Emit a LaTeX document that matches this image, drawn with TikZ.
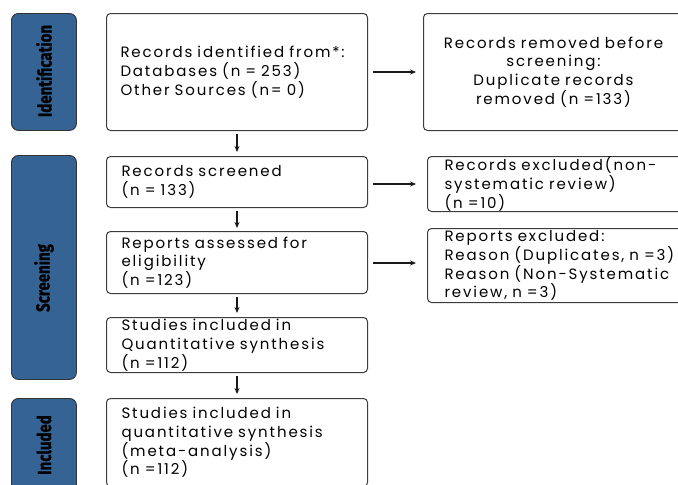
\documentclass[tikz,border=0pt]{standalone}
\usepackage{fontspec}
\setmainfont{Poppins}[LetterSpace=12.5]
\newfontfamily\labfont{Fira Sans}[BoldFeatures={FakeBold=1.2}]
\usetikzlibrary{arrows.meta}
\definecolor{phase}{RGB}{52,99,148}
\definecolor{edge}{RGB}{60,60,60}
\tikzset{
  box/.style={draw=edge, line width=1pt, rounded corners=4pt, rectangle, inner xsep=14pt, inner ysep=0pt,
    align=left, font=\fontsize{15}{18.7}\selectfont, anchor=north west},
  cbox/.style={box, align=center},
  phasebox/.style={draw=black!80, line width=0.9pt, fill=phase, rounded corners=7pt, rectangle, anchor=north west, inner sep=0pt},
  phasetext/.style={rotate=90, font=\labfont\bfseries\fontsize{19}{19}\selectfont, inner sep=0pt},
  arr/.style={draw=black!90, line width=1.3pt, -{Stealth[length=6pt,width=5pt]}},
}
\begin{document}
\begin{tikzpicture}[x=1pt,y=-1pt]
\useasboundingbox (0,0) rectangle (678,485);
\clip (0,0) rectangle (678,485);
% phase labels
\node[phasebox, minimum width=65pt, minimum height=117pt] (pid) at (11,13) {};
\node[phasetext] (tid) at (44,71) {\scalebox{0.79}[1]{Identification}};
\node[phasebox, minimum width=65pt, minimum height=224pt] (psc) at (11,155) {};
\node[phasetext] (tsc) at (44,278) {\scalebox{0.79}[1]{Screening}};
\node[phasebox, minimum width=65pt, minimum height=110pt] (pin) at (11,398) {};
\node[phasetext] (tin) at (44,445) {\scalebox{0.79}[1]{Included}};
% boxes
\node[box, minimum width=261pt, minimum height=117pt, text width=233pt] (b1) at (106,13)
  {Records identified from*:\\Databases (n = 253)\\Other Sources (n= 0)};
\node[cbox, minimum width=260pt, minimum height=117pt, text width=250pt, inner xsep=5pt] (b2) at (423,13)
  {Records removed before\\screening:\\Duplicate records\\removed (n =133)};
\node[box, minimum width=261pt, minimum height=51pt, text width=231pt, inner xsep=15pt] (b3) at (106,156)
  {Records screened\\(n = 133)};
\node[box, minimum width=260pt, minimum height=55pt, text width=240pt, inner xsep=17pt] (b4) at (427,156)
  {Records excluded(non-\\systematic review)\\(n =10)};
\node[box, minimum width=261pt, minimum height=62pt, text width=231pt, inner xsep=15pt] (b5) at (106,231)
  {Reports assessed for\\eligibility\\(n =123)};
\node[box, minimum width=260pt, minimum height=74pt, text width=240pt, inner xsep=17pt] (b6) at (427,228)
  {Reports excluded:\\Reason (Duplicates, n =3)\\Reason (Non-Systematic\\review, n =3)};
\node[box, minimum width=261pt, minimum height=55pt, text width=231pt, inner xsep=15pt] (b7) at (106,317)
  {Studies included in\\Quantitative synthesis\\(n =112)};
\node[box, minimum width=261pt, minimum height=88pt, text width=231pt, inner xsep=15pt] (b8) at (106,398)
  {Studies included in\\quantitative synthesis\\(meta-analysis)\\(n =112)};
% connectors
\draw[arr, shorten <=3pt, shorten >=4pt] (b1.south) -- (b3.north);
\draw[arr, shorten <=3pt, shorten >=3pt] (b3.south) -- (b5.north);
\draw[arr, shorten <=3pt, shorten >=4pt] (b5.south) -- (b7.north);
\draw[arr, shorten <=3pt, shorten >=4pt] (b7.south) -- (b8.north);
\draw[arr, shorten <=5pt, shorten >=7pt] (b1.east) -- (b1.east -| b2.west);
\draw[arr, shorten <=5pt, shorten >=11pt] (b3.east) ++(0,2) coordinate (c3) -- (c3 -| b4.west);
\draw[arr, shorten <=5pt, shorten >=11pt] (b5.east) ++(0,0.5) coordinate (c5) -- (c5 -| b6.west);
\end{tikzpicture}
\end{document}
